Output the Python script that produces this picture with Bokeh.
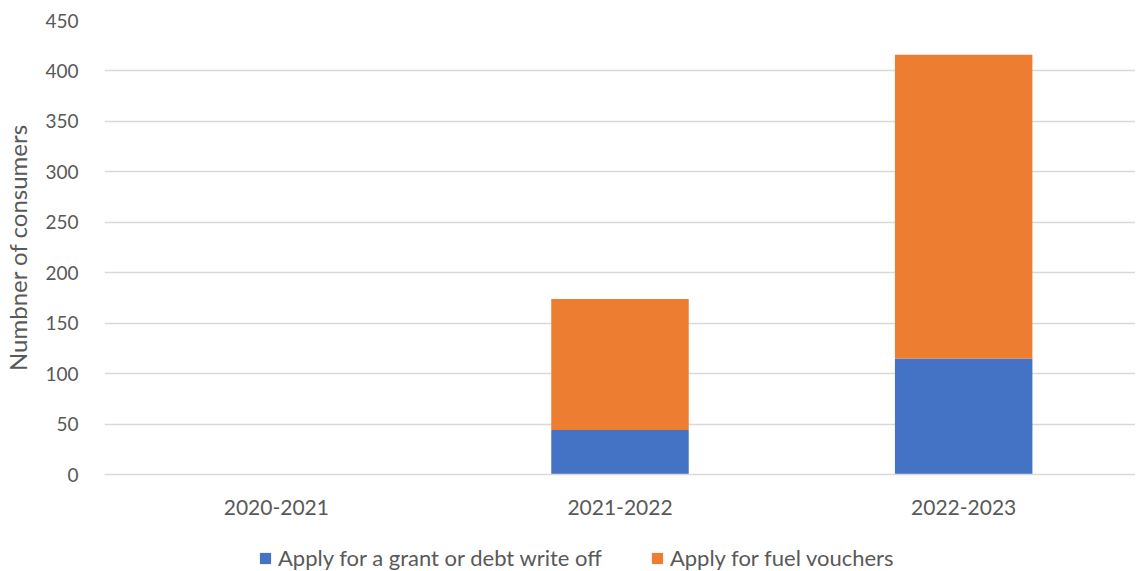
from bokeh.plotting import figure
from bokeh.models import ColumnDataSource, FactorRange, Range1d, Legend, LegendItem, SingleIntervalTicker
from bokeh.layouts import column
from bokeh.embed import file_html
from bokeh.resources import INLINE

years = ["2020-2021", "2021-2022", "2022-2023"]
grant = [0, 44, 115]
fuel = [0, 130, 301]
series = ["Apply for a grant or debt write off", "Apply for fuel vouchers"]
colors = ["#4472C4", "#ED7D31"]

src = ColumnDataSource(dict(year=years, grant=grant, fuel=fuel))

FONT = "Lato"
TXT = "#595959"

p = figure(x_range=FactorRange(factors=years, range_padding=0), y_range=Range1d(0, 450),
           width=1135, height=522, output_backend="svg", toolbar_location=None,
           min_border_left=95, min_border_right=0, min_border_top=20, min_border_bottom=48)

r = p.vbar_stack(["grant", "fuel"], x="year", width=0.4, source=src, color=colors,
                 line_color=None)

p.outline_line_color = None
p.xgrid.grid_line_color = None
p.ygrid.grid_line_color = "#D9D9D9"
p.ygrid.grid_line_width = 1.3
p.yaxis.ticker = SingleIntervalTicker(interval=50)
p.yaxis.axis_line_color = None
p.yaxis.major_tick_line_color = None
p.yaxis.minor_tick_line_color = None
p.yaxis.major_label_text_font = FONT
p.yaxis.major_label_text_font_size = "19px"
p.yaxis.major_label_text_color = TXT
p.yaxis.major_label_standoff = 20
p.yaxis.axis_label = "Numbner of consumers"
p.yaxis.axis_label_text_font = FONT
p.yaxis.axis_label_text_font_size = "24px"
p.yaxis.axis_label_text_font_style = "normal"
p.yaxis.axis_label_text_color = TXT
p.yaxis.axis_label_standoff = 10

p.xaxis.axis_line_color = "#D9D9D9"
p.xaxis.axis_line_width = 1.3
p.xaxis.major_tick_line_color = None
p.xaxis.minor_tick_line_color = None
p.xaxis.major_label_text_font = FONT
p.xaxis.major_label_text_font_size = "21px"
p.xaxis.major_label_text_color = TXT
p.xaxis.major_label_standoff = 19

# legend in its own strip below the chart (placeholder glyphs lie outside its range)
lg = figure(width=1135, height=49, output_backend="svg", toolbar_location=None,
            min_border=0, x_range=Range1d(0, 1), y_range=Range1d(0, 1))
lg.axis.visible = False
lg.grid.visible = False
lg.outline_line_color = None
placeholder = ColumnDataSource(dict(x=[5], top=[5]))
dummies = [lg.vbar(x="x", top="top", bottom=4, width=0.1, source=placeholder, color=c,
                   line_color=None) for c in colors]
legend = Legend(items=[LegendItem(label=series[i], renderers=[dummies[i]]) for i in range(2)],
                orientation="horizontal", location=(154, 0),
                label_text_font=FONT, label_text_font_size="22px", label_text_color=TXT,
                glyph_width=14, glyph_height=14, label_standoff=6, spacing=48,
                padding=0, margin=0, border_line_color=None, background_fill_alpha=0)
lg.add_layout(legend, "center")

open("out.html", "w").write(file_html(column(p, lg, spacing=0), INLINE))
